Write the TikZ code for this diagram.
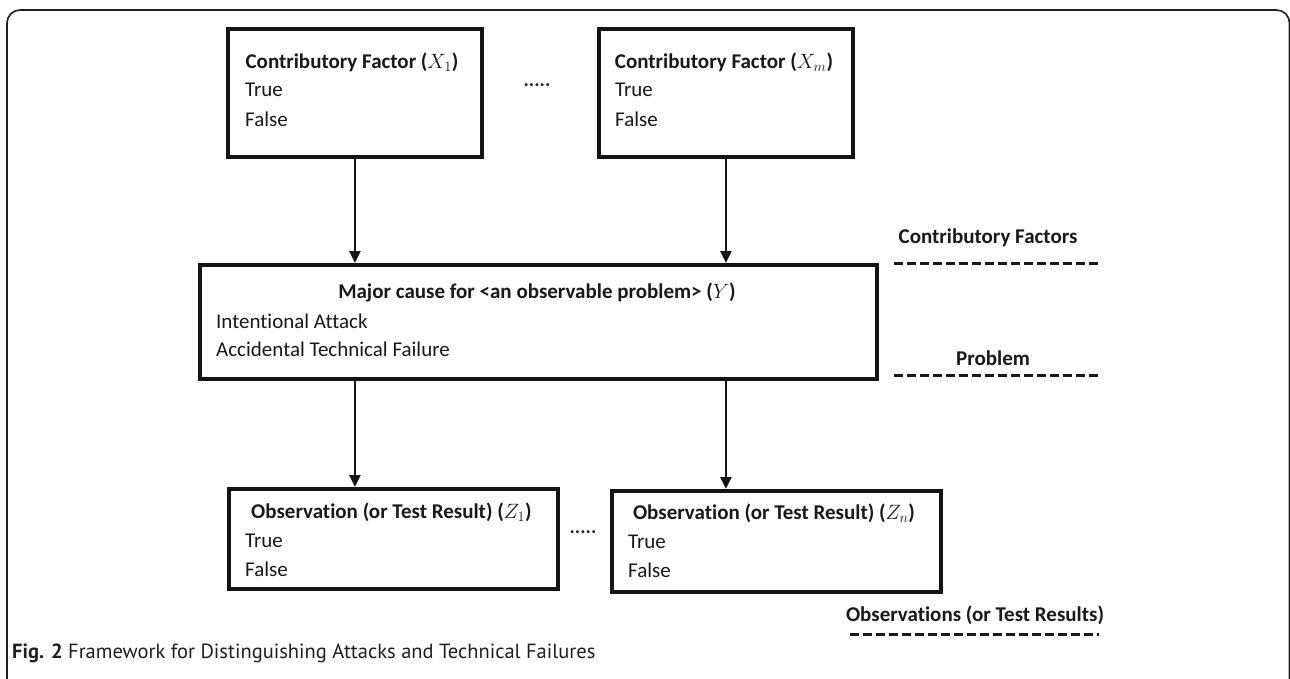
\documentclass[tikz,border=0pt]{standalone}
\usepackage{fontspec}
\setmainfont{Carlito}[Ligatures=NoCommon]
\newfontfamily\capfont{PT Sans}
\usetikzlibrary{arrows.meta}
\begin{document}
\begin{tikzpicture}[x=1pt,y=-1pt,
  box/.style={draw=black!92, line width=3.8pt, inner sep=0pt, anchor=north west},
  ttl/.style={font=\fontsize{21}{24}\selectfont\bfseries, inner sep=0pt, text=black!90},
  itm/.style={font=\fontsize{21}{24}\selectfont, inner sep=0pt, anchor=west, text=black!90},
  lbl/.style={font=\fontsize{21}{24}\selectfont\bfseries, inner sep=0pt, text=black!90},
  arr/.style={line width=2.6pt, draw=black!92, -{Triangle[length=12pt,width=11pt]}},
  sepline/.style={line width=3pt, draw=black!90, dash pattern=on 8.5pt off 4.5pt},
  dotsnode/.style={font=\fontsize{20}{22}\selectfont\bfseries, inner sep=0pt, text=black!85},
  frame/.style={line width=1.6pt, draw=black!88, rounded corners=13pt}
]
\useasboundingbox (0,0) rectangle (1290,678);
\fill[white] (0,0) rectangle (1290,678);
\draw[frame] (7,690) -- (7,10) -- (1289.5,10) -- (1289.5,690);

% boxes
\node[box, minimum width=254pt, minimum height=128pt] (x1) at (226,27) {};
\node[box, minimum width=254pt, minimum height=128pt] (xm) at (597,27) {};
\node[box, minimum width=677pt, minimum height=114pt] (y) at (198,263) {};
\node[box, minimum width=329pt, minimum height=100pt] (z1) at (227,487) {};
\node[box, minimum width=329pt, minimum height=101pt] (zn) at (610,489) {};

% texts X1
\node[ttl] (x1t) at (352,62) {Contributory Factor ($X_1$)};
\node[itm] (x1a) at (245,90) {True};
\node[itm] (x1b) at (245,119) {False};
% texts Xm
\node[ttl] (xmt) at (724,62) {Contributory Factor ($X_m$)};
\node[itm] (xma) at (615,90) {True};
\node[itm] (xmb) at (615,119) {False};
% texts Y
\node[ttl] (yt) at (537,292) {Major cause for <an observable problem> ($Y$)};
\node[itm] (ya) at (216,321) {Intentional Attack};
\node[itm] (yb) at (216,349) {Accidental Technical Failure};
% texts Z1
\node[ttl] (z1t) at (391.5,512) {Observation (or Test Result) ($Z_1$)};
\node[itm] (z1a) at (245,541) {True};
\node[itm] (z1b) at (245,569) {False};
% texts Zn
\node[ttl] (znt) at (774,513) {Observation (or Test Result) ($Z_n$)};
\node[itm] (zna) at (628,542) {True};
\node[itm] (znb) at (628,570) {False};

% ellipses
\node[dotsnode] (d1) at (537,85) {.....};
\node[dotsnode] (d2) at (583,532) {.....};

% arrows
\draw[arr] (x1.south) -- (x1.south |- y.north);
\draw[arr] (xm.south) -- (xm.south |- y.north);
\draw[arr] (x1.south |- y.south) -- (x1.south |- z1.north);
\draw[arr] (xm.south |- y.south) -- (xm.south |- zn.north);

% level labels
\node[lbl] (cf) at (988,238) {Contributory Factors};
\coordinate (cfa) at (894,263);
\coordinate (cfb) at (1102,263);
\draw[sepline] (cfa) -- (cfb);
\node[lbl] (pr) at (993,358) {Problem};
\coordinate (pra) at (894,375);
\coordinate (prb) at (1102,375);
\draw[sepline] (pra) -- (prb);
\node[lbl] (ob) at (975,615) {Observations (or Test Results)};
\coordinate (oba) at (850,634);
\coordinate (obb) at (1099,634);
\draw[sepline] (oba) -- (obb);

% caption
\node[anchor=west, inner sep=0pt, text=black!88, font=\capfont\fontsize{20.5}{24}\selectfont] (cap) at (12,653) {\textbf{Fig. 2} Framework for Distinguishing Attacks and Technical Failures};
\end{tikzpicture}
\end{document}
